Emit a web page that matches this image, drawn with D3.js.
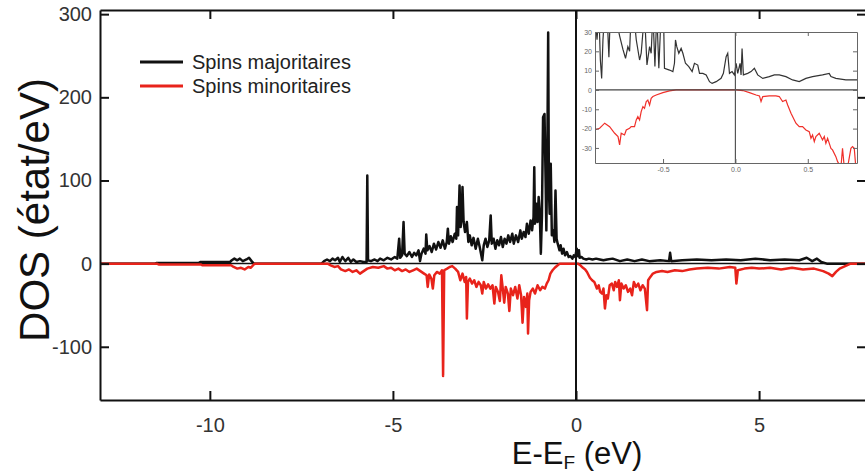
<!DOCTYPE html>
<meta charset="utf-8">
<style>
  body { margin: 0; background: #fff; }
  svg { font-family: "Liberation Sans", Arial, sans-serif; display: block; }
  .axis path, .axis line { stroke: #111; stroke-width: 2; }
  .axis text { fill: #333; font-size: 20px; }
  .inset .axis path, .inset .axis line { stroke: #666; stroke-width: 1; }
  .inset .axis text { fill: #666; font-size: 7px; }
</style>
<svg width="865" height="473"></svg>
<script src="https://d3js.org/d3.v7.min.js"></script>
<script>
  // main chart: [E - EF (eV), DOS (état/eV)]
  var majoritaires = [
    [-13,0],[-11.5,0],[-11.45,0.8],[-10.3,0.8],[-10.25,2],[-9.45,2],[-9.4,4],[-9.33,6],[-9.25,4],[-9.18,6],
    [-9.1,3],[-9.0,5],[-8.93,7],[-8.86,3],[-8.8,0],[-6.95,0],[-6.88,3],[-6.8,5],[-6.72,3],[-6.65,6],
    [-6.58,4],[-6.5,7],[-6.45,2],[-6.38,8],[-6.3,3],[-6.22,7],[-6.15,2],[-6.08,5],[-6.0,2],[-5.9,3],
    [-5.8,2],[-5.72,2],[-5.70,106],[-5.68,4],[-5.6,3],[-5.5,5],[-5.42,3],[-5.35,6],[-5.25,4],[-5.15,7],
    [-5.05,5],[-4.95,8],[-4.88,6],[-4.83,30],[-4.80,7],[-4.75,10],[-4.71,50],[-4.68,12],[-4.62,9],[-4.55,14],
    [-4.48,8],[-4.42,13],[-4.36,10],[-4.3,16],[-4.26,3],[-4.22,12],[-4.16,18],[-4.11,12],[-4.09,35],[-4.06,16],
    [-4.0,21],[-3.94,14],[-3.88,24],[-3.82,17],[-3.76,26],[-3.7,19],[-3.64,28],[-3.58,18],[-3.53,26],[-3.50,42],
    [-3.47,24],[-3.42,33],[-3.37,26],[-3.31,36],[-3.27,30],[-3.25,68],[-3.22,34],[-3.18,94],[-3.15,44],[-3.12,62],
    [-3.10,92],[-3.07,50],[-3.03,38],[-2.98,50],[-2.94,26],[-2.9,34],[-2.85,22],[-2.8,31],[-2.74,18],[-2.68,30],
    [-2.63,20],[-2.56,4],[-2.52,22],[-2.47,30],[-2.42,20],[-2.37,28],[-2.33,58],[-2.30,24],[-2.25,30],[-2.2,18],
    [-2.15,28],[-2.1,22],[-2.05,32],[-2.0,20],[-1.95,30],[-1.9,24],[-1.85,34],[-1.8,26],[-1.74,36],[-1.7,24],
    [-1.64,34],[-1.58,26],[-1.52,40],[-1.48,30],[-1.43,38],[-1.38,32],[-1.34,48],[-1.29,36],[-1.24,52],[-1.2,40],
    [-1.16,56],[-1.14,116],[-1.12,48],[-1.08,72],[-1.05,50],[-1.02,80],[-0.99,62],[-0.96,12],[-0.93,58],[-0.9,176],
    [-0.86,180],[-0.83,100],[-0.81,40],[-0.78,150],[-0.76,278],[-0.74,90],[-0.72,60],[-0.69,120],[-0.66,34],[-0.62,40],
    [-0.59,26],[-0.56,88],[-0.53,30],[-0.5,24],[-0.45,16],[-0.42,22],[-0.38,12],[-0.34,18],[-0.3,10],[-0.25,14],
    [-0.2,8],[-0.15,9],[-0.1,6],[-0.06,10],[-0.02,8],[0.02,18],[0.05,9],[0.08,16],[0.1,7],[0.15,8],
    [0.2,6],[0.28,5],[0.35,6],[0.45,5],[0.55,6],[0.65,5],[0.75,4],[0.85,5],[1.0,6],[1.2,3],
    [1.4,5],[1.6,3],[1.8,5],[2.0,3],[2.3,4],[2.54,3],[2.57,13],[2.6,3],[2.9,4],[3.3,5],
    [3.7,4],[4.1,5],[4.5,4],[4.9,6],[5.3,4],[5.7,5],[6.1,4],[6.3,7],[6.45,3],[6.58,6],
    [6.7,2],[6.85,0],[7.92,0]
  ];

  var minoritaires = [
    [-13,0],[-11.45,0],[-11.4,-1],[-10.25,-1],[-10.2,-2],[-9.42,-2],[-9.35,-4],[-9.25,-6],[-9.15,-5],[-9.05,-7],
    [-8.95,-4],[-8.88,-5],[-8.8,-1],[-8.75,0],[-6.78,0],[-6.7,-2],[-6.6,-4],[-6.5,-3],[-6.42,-7],[-6.3,-9],
    [-6.2,-7],[-6.1,-10],[-6.0,-8],[-5.9,-12],[-5.8,-9],[-5.7,-6],[-5.55,-4],[-5.4,-5],[-5.25,-3],[-5.15,-6],
    [-5.05,-5],[-4.95,-8],[-4.85,-6],[-4.75,-9],[-4.65,-7],[-4.55,-10],[-4.45,-8],[-4.35,-6],[-4.25,-9],[-4.15,-12],
    [-4.08,-14],[-4.05,-28],[-4.01,-13],[-3.95,-18],[-3.91,-30],[-3.87,-14],[-3.8,-10],[-3.72,-12],[-3.66,-8],[-3.63,-135],
    [-3.60,-8],[-3.52,-6],[-3.45,-4],[-3.38,-3],[-3.3,-6],[-3.22,-10],[-3.16,-20],[-3.1,-12],[-3.04,-22],[-3.0,-16],
    [-2.98,-66],[-2.95,-22],[-2.9,-18],[-2.84,-24],[-2.78,-20],[-2.72,-28],[-2.66,-22],[-2.6,-26],[-2.56,-36],[-2.52,-22],
    [-2.46,-30],[-2.4,-25],[-2.34,-30],[-2.28,-26],[-2.23,-48],[-2.19,-28],[-2.13,-34],[-2.08,-45],[-2.04,-14],[-2.0,-30],
    [-1.96,-47],[-1.92,-28],[-1.86,-36],[-1.82,-57],[-1.78,-30],[-1.72,-38],[-1.66,-28],[-1.6,-42],[-1.55,-26],[-1.5,-38],
    [-1.46,-71],[-1.42,-40],[-1.37,-52],[-1.33,-36],[-1.31,-84],[-1.28,-44],[-1.24,-34],[-1.18,-30],[-1.12,-36],[-1.05,-26],
    [-0.98,-32],[-0.92,-28],[-0.85,-30],[-0.8,-24],[-0.75,-20],[-0.7,-12],[-0.64,-8],[-0.58,-5],[-0.5,-2],[-0.44,0],
    [0.05,0],[0.12,-2],[0.19,-5],[0.25,-7],[0.3,-10],[0.38,-17],[0.44,-20],[0.5,-22],[0.57,-30],[0.62,-26],
    [0.66,-34],[0.71,-36],[0.75,-30],[0.79,-54],[0.83,-38],[0.87,-42],[0.92,-26],[0.98,-24],[1.03,-32],[1.07,-22],
    [1.12,-28],[1.17,-20],[1.2,-44],[1.24,-24],[1.3,-30],[1.36,-26],[1.42,-34],[1.48,-30],[1.53,-38],[1.58,-22],
    [1.64,-28],[1.7,-24],[1.76,-32],[1.82,-26],[1.88,-30],[1.94,-56],[1.97,-20],[2.03,-16],[2.1,-12],[2.2,-10],
    [2.35,-9],[2.5,-10],[2.7,-8],[2.9,-9],[3.1,-7],[3.3,-6],[3.6,-5],[3.9,-6],[4.2,-4],[4.35,-5],
    [4.38,-24],[4.42,-8],[4.6,-6],[4.8,-5],[5.0,-6],[5.3,-5],[5.6,-7],[5.9,-5],[6.2,-7],[6.5,-6],
    [6.75,-9],[6.9,-12],[7.0,-15],[7.1,-10],[7.2,-6],[7.35,-3],[7.5,0],[7.92,0]
  ];

  // inset (zoom near EF)
  var insetMaj = [
    [-0.972,40],[-0.956,26],[-0.943,40],[-0.933,15.5],[-0.924,6],[-0.915,26],[-0.903,40],[-0.887,40],[-0.874,17],[-0.864,40],
    [-0.834,40],[-0.8,28],[-0.777,21],[-0.759,16.4],[-0.743,22.4],[-0.731,20],[-0.72,40],[-0.703,40],[-0.685,26],[-0.662,15.5],
    [-0.651,19],[-0.628,40],[-0.611,12.9],[-0.593,22.4],[-0.582,19],[-0.570,40],[-0.556,12.1],[-0.543,40],[-0.529,11.2],[-0.513,40],
    [-0.497,40],[-0.49,11.2],[-0.455,10.3],[-0.432,9.5],[-0.421,13.8],[-0.414,25.9],[-0.405,22.4],[-0.391,19],[-0.375,21.5],[-0.363,19],
    [-0.345,13.8],[-0.322,12.1],[-0.299,9.5],[-0.283,13.8],[-0.26,12.9],[-0.248,8.6],[-0.225,8.6],[-0.202,7.8],[-0.179,4.3],[-0.161,3.4],
    [-0.133,4.3],[-0.099,6],[-0.083,8.6],[-0.064,17.2],[-0.053,19],[-0.041,8.6],[-0.023,9.5],[-0.007,7.8],[0.005,13.8],[0.016,8.6],
    [0.032,13.8],[0.039,7.8],[0.046,21.5],[0.055,7.8],[0.085,8.6],[0.108,9.5],[0.131,11.2],[0.154,7.8],[0.189,6],[0.234,6.9],
    [0.269,7.8],[0.303,7.8],[0.349,6.9],[0.395,5.2],[0.441,4.3],[0.487,6],[0.533,6.9],[0.602,7.8],[0.648,8.6],[0.66,6.9],
    [0.694,6],[0.763,5.2],[0.844,5.2]
  ];

  var insetMin = [
    [-0.972,-20.7],[-0.938,-19.8],[-0.903,-17.2],[-0.869,-19],[-0.834,-22.4],[-0.811,-24.1],[-0.8,-28.4],[-0.789,-22.4],[-0.766,-23.3],[-0.754,-20.7],
    [-0.731,-19.8],[-0.72,-19],[-0.697,-19],[-0.685,-15.5],[-0.674,-13.8],[-0.662,-15.5],[-0.651,-11.2],[-0.639,-8.6],[-0.628,-9.5],[-0.616,-6],
    [-0.605,-5.2],[-0.593,-7.8],[-0.582,-4.3],[-0.57,-3.4],[-0.547,-2.6],[-0.501,-1.4],[-0.455,-0.5],[-0.409,0],[0.005,0],[0.051,-0.3],
    [0.097,-1.4],[0.143,-2.6],[0.166,-3.1],[0.177,-6],[0.189,-3.4],[0.234,-3.1],[0.28,-3.1],[0.303,-3.4],[0.326,-6],[0.349,-5.2],
    [0.361,-7.8],[0.384,-12.1],[0.407,-15.5],[0.418,-17.2],[0.441,-19],[0.464,-19],[0.487,-20.7],[0.51,-21.6],[0.522,-25],[0.533,-23.3],
    [0.545,-26.7],[0.556,-24.1],[0.579,-22.4],[0.602,-25.9],[0.614,-24.1],[0.625,-27.6],[0.637,-25],[0.66,-30.2],[0.671,-31],[0.694,-34.5],
    [0.706,-37.1],[0.729,-40],[0.74,-30.2],[0.752,-40],[0.775,-40],[0.798,-30.2],[0.809,-29.3],[0.821,-30.2],[0.832,-40],[0.844,-40]
  ];

  var xTicks = [-10, -5, 0, 5],
      yTicks = [-100, 0, 100, 200, 300],
      insetXTicks = [-0.5, 0, 0.5],
      insetYTicks = [-30, -20, -10, 0, 10, 20, 30];

  var svg = d3.select("svg"),
      margin = {top: 10, left: 100},
      width = 766,
      height = 390,
      g = svg.append("g").attr("transform", "translate(" + margin.left + "," + margin.top + ")");

  var x = d3.scaleLinear().domain([-13, 7.92]).range([0, width]);
  var y = d3.scaleLinear().domain([-164, 305]).range([height, 0]);

  svg.append("clipPath").attr("id", "clip")
    .append("rect").attr("width", width).attr("height", height);

  var line = d3.line()
      .x(function(d) { return x(d[0]); })
      .y(function(d) { return y(d[1]); });

  var plot = g.append("g").attr("clip-path", "url(#clip)");

  // zero line
  plot.append("line")
      .attr("x1", 0).attr("x2", width)
      .attr("y1", y(0)).attr("y2", y(0))
      .attr("stroke", "#111").attr("stroke-width", 1.5);

  plot.append("path")
      .datum(majoritaires)
      .attr("fill", "none")
      .attr("stroke", "#111")
      .attr("stroke-width", 2.5)
      .attr("stroke-linejoin", "round")
      .attr("d", line);

  plot.append("path")
      .datum(minoritaires)
      .attr("fill", "none")
      .attr("stroke", "#e8231b")
      .attr("stroke-width", 2.5)
      .attr("stroke-linejoin", "round")
      .attr("d", line);

  // Fermi level
  plot.append("line")
      .attr("x1", x(0)).attr("x2", x(0))
      .attr("y1", 0).attr("y2", height)
      .attr("stroke", "#111").attr("stroke-width", 2);

  var fmt = function(d) { return String(d); };

  g.append("g").attr("class", "axis")
      .attr("transform", "translate(0," + height + ")")
      .call(d3.axisBottom(x).tickValues(xTicks).tickSize(-9).tickSizeOuter(0).tickPadding(18).tickFormat(fmt));
  g.append("g").attr("class", "axis")
      .call(d3.axisLeft(y).tickValues(yTicks).tickSize(-9).tickSizeOuter(0).tickPadding(8).tickFormat(fmt));
  g.append("g").attr("class", "axis")
      .call(d3.axisTop(x).tickValues(xTicks).tickSize(-9).tickSizeOuter(0).tickFormat(""));
  g.append("g").attr("class", "axis")
      .attr("transform", "translate(" + width + ",0)")
      .call(d3.axisRight(y).tickValues(yTicks).tickSize(-9).tickSizeOuter(0).tickFormat(""));

  svg.append("text")
      .attr("transform", "translate(49,210) rotate(-90)")
      .attr("text-anchor", "middle")
      .attr("font-size", 42)
      .attr("fill", "#111")
      .text("DOS (état/eV)");

  var xt = svg.append("text")
      .attr("x", 577).attr("y", 464)
      .attr("text-anchor", "middle")
      .attr("font-size", 31)
      .attr("fill", "#111");
  xt.append("tspan").text("E-E");
  xt.append("tspan").attr("font-size", 19).attr("dy", 5).text("F");
  xt.append("tspan").attr("dy", -5).text(" (eV)");

  // legend
  var legend = svg.append("g").attr("font-size", 20).attr("fill", "#222");
  [["Spins majoritaires", "#111", 62], ["Spins minoritaires", "#e8231b", 86]].forEach(function(l) {
    legend.append("line")
        .attr("x1", 140).attr("x2", 183).attr("y1", l[2]).attr("y2", l[2])
        .attr("stroke", l[1]).attr("stroke-width", 3);
    legend.append("text").attr("x", 192).attr("y", l[2] + 7).text(l[0]);
  });

  // inset
  svg.append("rect")
      .attr("x", 578).attr("y", 26).attr("width", 280).attr("height", 152)
      .attr("fill", "#fff");

  var iw = 262, ih = 131,
      ig = svg.append("g").attr("class", "inset").attr("transform", "translate(595,32)");

  var xi = d3.scaleLinear().domain([-0.97, 0.84]).range([0, iw]);
  var yi = d3.scaleLinear().domain([-37.8, 30]).range([ih, 0]);

  svg.append("clipPath").attr("id", "iclip")
    .append("rect").attr("width", iw).attr("height", ih);

  var iline = d3.line()
      .x(function(d) { return xi(d[0]); })
      .y(function(d) { return yi(d[1]); });

  var iplot = ig.append("g").attr("clip-path", "url(#iclip)");

  iplot.append("path")
      .datum(insetMaj)
      .attr("fill", "none").attr("stroke", "#333").attr("stroke-width", 1.2)
      .attr("d", iline);
  iplot.append("path")
      .datum(insetMin)
      .attr("fill", "none").attr("stroke", "#f0302a").attr("stroke-width", 1.2)
      .attr("d", iline);
  iplot.append("line")
      .attr("x1", 0).attr("x2", iw).attr("y1", yi(0)).attr("y2", yi(0))
      .attr("stroke", "#444").attr("stroke-width", 1.2);
  iplot.append("line")
      .attr("x1", xi(0)).attr("x2", xi(0)).attr("y1", 0).attr("y2", ih)
      .attr("stroke", "#555").attr("stroke-width", 1.2);

  var ifmt = function(d) { return d.toFixed(1); };
  ig.append("g").attr("class", "axis")
      .attr("transform", "translate(0," + ih + ")")
      .call(d3.axisBottom(xi).tickValues(insetXTicks).tickSize(-4).tickSizeOuter(0).tickPadding(4).tickFormat(ifmt));
  ig.append("g").attr("class", "axis")
      .call(d3.axisLeft(yi).tickValues(insetYTicks).tickSize(-4).tickSizeOuter(0).tickPadding(3).tickFormat(fmt));
  ig.append("g").attr("class", "axis")
      .call(d3.axisTop(xi).tickValues(insetXTicks).tickSize(-4).tickSizeOuter(0).tickFormat(""));
  ig.append("g").attr("class", "axis")
      .attr("transform", "translate(" + iw + ",0)")
      .call(d3.axisRight(yi).tickValues(insetYTicks).tickSize(-4).tickSizeOuter(0).tickFormat(""));
</script>
